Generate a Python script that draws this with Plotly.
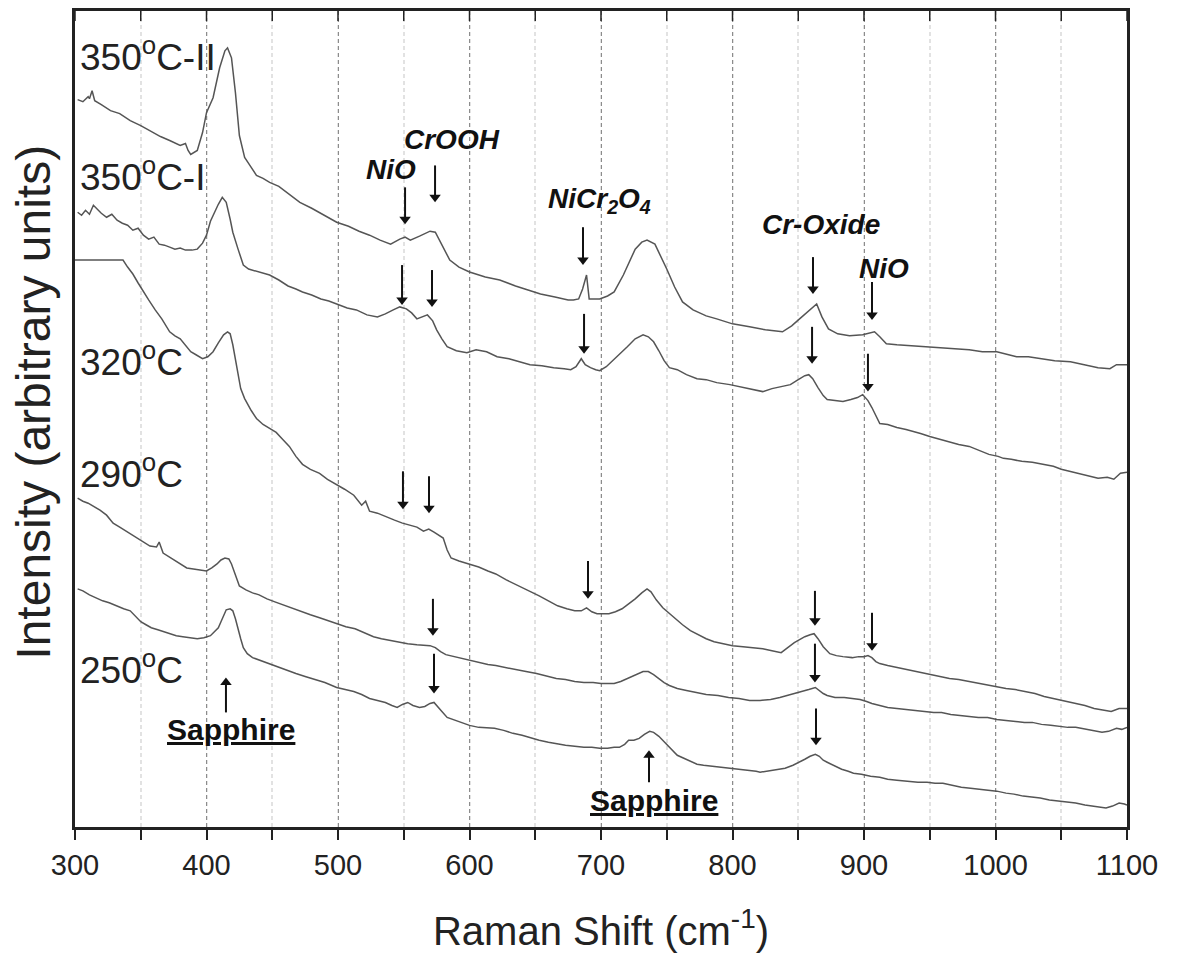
import plotly.graph_objects as go

# ---------------- data (Raman shift in cm^-1, intensity in arbitrary units) -------------
shift_350_II = [302, 306, 310, 311, 313, 315, 320, 327, 334, 342, 350, 357, 365, 372, 380, 384, 386, 388,
                393, 397, 400, 405, 410, 414, 416, 419, 422, 425, 429, 433, 438, 443, 448, 455, 463, 471,
                480, 490, 499, 508, 516, 524, 532, 540, 547, 551, 555, 562, 570, 574, 578, 585, 592, 600,
                612, 623, 635, 645, 654, 665, 675, 679, 683, 686, 689, 691, 695, 699, 705, 710, 717, 722,
                726, 731, 735, 741, 746, 750, 756, 762, 770, 780, 788, 800, 813, 825, 838, 845, 851, 856,
                861, 864, 868, 873, 880, 889, 899, 904, 908, 912, 917, 925, 935, 945, 952, 965, 980, 990,
                1001, 1010, 1016, 1025, 1035, 1045, 1057, 1068, 1078, 1087, 1092, 1097, 1100]
int_350_II = [730, 728, 733, 731, 739, 729, 725, 719, 716, 709, 704, 699, 693, 689, 684, 686, 679, 675,
              679, 697, 717, 732, 762, 779, 782, 772, 737, 694, 672, 664, 654, 651, 647, 643, 635, 627,
              621, 614, 607, 603, 598, 594, 589, 585, 590, 592, 589, 593, 598, 597, 587, 569, 562, 557,
              552, 549, 543, 539, 535, 532, 529, 529, 530, 540, 554, 530, 530, 530, 533, 537, 554, 568,
              580, 587, 589, 585, 572, 560, 542, 527, 519, 513, 510, 505, 502, 499, 497, 503, 510, 516,
              522, 525, 512, 500, 495, 493, 494, 496, 497, 492, 485, 484, 483, 482, 482, 480, 479, 477,
              477, 474, 472, 472, 470, 468, 467, 464, 461, 460, 464, 464, 464]

shift_350_I = [302, 305, 308, 311, 314, 317, 320, 324, 328, 332, 336, 340, 344, 348, 352, 356, 360, 364,
               368, 372, 376, 380, 384, 389, 393, 397, 400, 403, 406, 409, 412, 415, 418, 420, 424, 428,
               432, 438, 443, 448, 455, 462, 468, 473, 480, 487, 493, 499, 507, 514, 522, 530, 536, 542,
               547, 552, 556, 560, 564, 568, 572, 575, 579, 583, 590, 598, 605, 613, 621, 630, 638, 646,
               655, 664, 672, 677, 681, 685, 688, 692, 696, 699, 704, 709, 714, 720, 726, 732, 736, 740,
               744, 748, 752, 758, 765, 773, 780, 788, 798, 805, 812, 818, 823, 830, 837, 844, 850, 855,
               858, 861, 865, 869, 872, 878, 884, 890, 895, 899, 903, 906, 909, 912, 918, 925, 932, 938,
               943, 950, 958, 965, 972, 980, 988, 995, 1002, 1006, 1012, 1020, 1028, 1036, 1044, 1050,
               1056, 1063, 1070, 1078, 1085, 1090, 1095, 1100]
int_350_I = [617, 614, 619, 615, 624, 620, 616, 612, 615, 609, 606, 604, 599, 601, 594, 590, 592, 585,
             584, 582, 580, 581, 579, 579, 580, 586, 594, 608, 617, 625, 632, 627, 610, 597, 580, 564,
             560, 558, 556, 554, 549, 543, 540, 537, 534, 530, 528, 525, 521, 519, 514, 512, 515, 519,
             522, 520, 516, 510, 512, 514, 508, 499, 490, 482, 478, 476, 479, 477, 472, 470, 467, 464,
             463, 461, 460, 459, 462, 470, 464, 461, 459, 458, 462, 468, 475, 482, 490, 494, 492, 487,
             478, 468, 461, 459, 454, 450, 449, 446, 444, 442, 440, 438, 437, 440, 442, 444, 449, 453,
             454, 450, 441, 433, 429, 428, 427, 429, 431, 434, 428, 421, 413, 405, 404, 401, 399, 397,
             395, 392, 389, 387, 384, 382, 378, 374, 372, 370, 369, 367, 366, 364, 362, 359,
             357, 355, 352, 350, 351, 349, 355, 356]

shift_320 = [300, 336.5, 340, 344, 348, 352, 356, 361, 366, 372, 376, 380, 384, 388, 392, 397, 401, 405,
             409, 413, 416, 418, 420, 423, 426, 429, 434, 438, 443, 448, 453, 458, 463, 468, 473, 479,
             486, 492, 499, 505, 512, 518, 521, 524, 530, 537, 543, 549, 555, 560, 565, 569, 573, 577,
             580, 583, 586, 592, 600, 607, 614, 620, 628, 636, 645, 653, 660, 667, 674, 680, 685, 689,
             693, 697, 701, 706, 711, 716, 721, 726, 731, 735, 738, 742, 747, 752, 757, 762, 768, 774,
             780, 786, 792, 800, 808, 816, 823, 830, 837, 842, 847, 851, 855, 859, 862, 865, 869, 874,
             879, 884, 891, 896, 900, 903, 906, 909, 912, 918, 925, 932, 938, 943, 950, 958, 965, 972,
             980, 987, 994, 1001, 1008, 1015, 1022, 1030, 1037, 1044, 1052, 1060, 1068, 1075, 1082,
             1088, 1094, 1100]
int_320 = [569, 569, 562, 555, 546, 537, 529, 519, 510, 497, 493, 490, 484, 477, 474, 470, 472, 477,
           486, 494, 497, 495, 484, 462, 440, 430, 418, 410, 404, 400, 396, 389, 382, 372, 364, 359,
           355, 349, 344, 339, 333, 323, 327, 317, 315, 311, 308, 305, 303, 301, 297, 299, 296, 293,
           290, 278, 270, 267, 264, 261, 257, 254, 248, 243, 237, 232, 227, 222, 219, 217, 217, 220,
           216, 214, 214, 214, 216, 219, 224, 229, 235, 239, 236, 228, 220, 214, 208, 203, 197, 193,
           189, 186, 184, 182, 181, 180, 179, 177, 175, 180, 185, 188, 191, 193, 194, 189, 181, 174,
           172, 171, 170, 171, 171, 172, 170, 166, 164, 162, 160, 158, 157, 155, 153, 151, 149, 148,
           146, 144, 142, 141, 139, 138, 136, 134, 131, 129, 127, 125, 122, 119, 117,
           116, 119, 119]

shift_290 = [302, 306, 310, 315, 319, 324, 329, 334, 340, 347, 352, 357, 362, 364, 367, 372, 377, 381,
             385, 390, 395, 400, 404, 408, 411, 414, 417, 419, 422, 425, 430, 435, 440, 446, 452, 458,
             465, 472, 479, 486, 493, 499, 506, 513, 520, 527, 533, 540, 547, 553, 560, 566, 570, 574,
             578, 582, 588, 594, 600, 607, 614, 620, 627, 635, 643, 651, 659, 666, 673, 680, 687, 694,
             700, 705, 710, 715, 720, 724, 728, 732, 736, 740, 744, 748, 752, 758, 765, 772, 780, 789,
             797, 805, 813, 821, 829, 836, 842, 848, 853, 858, 863, 866, 869, 872, 878, 885, 891, 897,
             902, 906, 912, 918, 925, 932, 940, 947, 953, 959, 966, 973, 980, 987, 994, 1001, 1008,
             1015, 1022, 1028, 1035, 1042, 1049, 1055, 1061, 1068, 1075, 1081, 1086, 1092, 1096, 1100]
int_290 = [330, 327, 325, 321, 318, 313, 305, 301, 296, 290, 286, 282, 281, 286, 275, 271, 267, 263,
           260, 259, 258, 257, 260, 264, 268, 270, 269, 264, 253, 242, 238, 235, 233, 229, 226, 223,
           220, 216, 213, 210, 207, 204, 201, 199, 195, 191, 189, 187, 185, 184, 183, 182, 182, 180,
           176, 173, 171, 169, 167, 165, 163, 162, 160, 158, 156, 154, 151, 149, 148, 146, 145, 145,
           144, 144, 144, 146, 149, 152, 154, 156, 156, 153, 149, 145, 142, 139, 137, 135, 133, 132,
           130, 129, 127, 127, 128, 130, 132, 134, 136, 138, 140, 137, 134, 132, 130, 130, 129, 128,
           126, 124, 122, 120, 119, 118, 117, 116, 115, 115, 113, 112, 111, 110, 110, 108, 107,
           106, 105, 105, 103, 102, 101, 100, 100, 98, 96, 95, 96, 99, 98, 100]

shift_250 = [302, 306, 311, 316, 321, 326, 331, 337, 342, 346, 350, 354, 358, 363, 368, 372, 377, 382,
             387, 393, 398, 403, 406, 409, 411, 413, 415, 418, 420, 422, 424, 426, 428, 431, 435, 441,
             447, 454, 461, 468, 475, 482, 490, 499, 506, 512, 518, 524, 530, 536, 541, 545, 549, 553,
             557, 562, 566, 570, 573, 576, 579, 583, 589, 595, 600, 607, 614, 619, 626, 633, 640, 647,
             653, 660, 664, 669, 673, 680, 687, 693, 699, 705, 710, 714, 718, 721, 725, 729, 733, 737,
             740, 744, 747, 751, 754, 758, 763, 768, 773, 778, 785, 792, 800, 806, 812, 818, 821, 826,
             833, 840, 846, 851, 855, 859, 863, 866, 869, 872, 877, 883, 888, 892, 898, 905, 912, 918,
             925, 933, 941, 948, 954, 960, 967, 974, 981, 988, 994, 1001, 1008, 1014, 1021, 1027, 1034,
             1041, 1048, 1055, 1061, 1068, 1075, 1080, 1084, 1089, 1094, 1098, 1100]
int_250 = [239, 237, 233, 230, 227, 225, 222, 219, 217, 212, 206, 203, 200, 198, 196, 194, 192, 191,
           190, 189, 190, 192, 196, 200, 206, 213, 218, 219, 217, 209, 198, 189, 180, 174, 170, 167,
           164, 161, 157, 154, 151, 148, 145, 140, 138, 136, 133, 129, 127, 125, 122, 120, 123, 125,
           122, 120, 121, 124, 125, 120, 116, 110, 107, 104, 102, 100, 99, 99, 97, 94, 92, 89,
           87, 85, 84, 83, 82, 81, 80, 80, 79, 79, 80, 80, 83, 87, 87, 89, 93, 96,
           95, 91, 87, 82, 77, 72, 69, 66, 63, 62, 61, 60, 59, 58, 57, 56, 55, 56,
           57, 59, 62, 65, 68, 71, 73, 71, 67, 65, 62, 58, 56, 54, 53, 51, 50, 48,
           47, 46, 45, 45, 44, 44, 42, 40, 39, 38, 37, 36, 34, 33, 31, 30, 29,
           27, 26, 25, 24, 22, 21, 20, 19, 21, 24, 23, 22]

series_names = ["350<sup>o</sup>C-II", "350<sup>o</sup>C-I", "320<sup>o</sup>C", "290<sup>o</sup>C", "250<sup>o</sup>C"]
series_shift = [shift_350_II, shift_350_I, shift_320, shift_290, shift_250]
series_int = [int_350_II, int_350_I, int_320, int_290, int_250]
label_y = [775, 655, 469, 357, 160]          # intensity level of each temperature label
label_x = 302.5

# peak annotations: text, Raman shift, intensity
peak_text = ["<b><i>NiO</i></b>", "<b><i>CrOOH</i></b>", "<b><i>NiCr<sub>2</sub>O<sub>4</sub></i></b>",
             "<b><i>Cr-Oxide</i></b>", "<b><i>NiO</i></b>"]
peak_x = [540.3, 586.7, 699.2, 867.3, 915.2]
peak_y = [660, 690, 629, 605, 561]

# downward marker arrows: Raman shift, tail intensity, head intensity
arrow_x = [551.0, 573.8, 686.3, 861.2, 906.1,
           548.7, 571.5, 687.1, 860.5, 903.0,
           549.4, 569.2, 690.1, 862.7, 906.1,
           572.2, 862.7,
           573.0, 863.5]
arrow_tail = [642, 664, 602, 572, 547,
              564, 559, 515, 502, 475,
              357, 352, 267, 237, 215,
              229, 184,
              174, 119]
arrow_head = [605, 627, 564, 535, 509,
              524, 522, 475, 465, 437,
              319, 315, 229, 202, 177,
              192, 145,
              134, 82]

# upward arrows above the "Sapphire" labels
up_arrow_x = [414.8, 736.5]
up_arrow_tail = [115, 45]
up_arrow_head = [150, 77]

sapphire_x = [418.3, 740.3]
sapphire_y = [98, 27]

x_ticks = [300, 400, 500, 600, 700, 800, 900, 1000, 1100]
top_ticks = [300, 350, 400, 450, 500, 550, 600, 650, 700, 750, 800, 850, 900, 950, 1000, 1050, 1100]
Y_TOP = 819

FONT = "Liberation Sans, Arial, Helvetica, sans-serif"
LINE = "#555555"
HEAD = 6   # arrow-head length in intensity units (1 unit ~ 1 px)

fig = go.Figure()
for s, i in zip(series_shift, series_int):
    fig.add_trace(go.Scatter(x=s, y=i, mode="lines", line=dict(color=LINE, width=1.5),
                             showlegend=False, hoverinfo="skip"))

# arrow shafts
shaft_x, shaft_y = [], []
for ax_, t_, h_ in zip(arrow_x, arrow_tail, arrow_head):
    shaft_x += [ax_, ax_, None]
    shaft_y += [t_, h_ + HEAD, None]
for ax_, t_, h_ in zip(up_arrow_x, up_arrow_tail, up_arrow_head):
    shaft_x += [ax_, ax_, None]
    shaft_y += [t_, h_ - HEAD, None]
fig.add_trace(go.Scatter(x=shaft_x, y=shaft_y, mode="lines", line=dict(color="#111", width=2),
                         showlegend=False, hoverinfo="skip"))
# arrow heads
fig.add_trace(go.Scatter(x=arrow_x, y=[h + HEAD - 1 for h in arrow_head], mode="markers",
                         marker=dict(symbol="triangle-down", size=10, color="#111",
                                     line=dict(width=0)),
                         showlegend=False, hoverinfo="skip"))
fig.add_trace(go.Scatter(x=up_arrow_x, y=[h - HEAD + 1 for h in up_arrow_head], mode="markers",
                         marker=dict(symbol="triangle-up", size=10, color="#111",
                                     line=dict(width=0)),
                         showlegend=False, hoverinfo="skip"))

# inward ticks along the top frame
top_x, top_y = [], []
for t in top_ticks:
    top_x += [t, t, None]
    top_y += [Y_TOP, Y_TOP - 10, None]
fig.add_trace(go.Scatter(x=top_x, y=top_y, mode="lines", line=dict(color="#222", width=1.5),
                         showlegend=False, hoverinfo="skip", cliponaxis=False))

ann = []
for name, ly in zip(series_names, label_y):
    ann.append(dict(x=label_x, y=ly, text=name, showarrow=False, xanchor="left", yanchor="middle",
                    font=dict(family=FONT, size=37, color="#222")))
for t, px, py in zip(peak_text, peak_x, peak_y):
    ann.append(dict(x=px, y=py, text=t, showarrow=False, xanchor="center", yanchor="middle",
                    font=dict(family=FONT, size=28, color="#111")))
for sx, sy in zip(sapphire_x, sapphire_y):
    ann.append(dict(x=sx, y=sy, text="<b><u>Sapphire</u></b>", showarrow=False, xanchor="center",
                    yanchor="middle", font=dict(family=FONT, size=30, color="#111")))
ann.append(dict(xref="paper", yref="paper", x=0, y=0.52, xshift=-41, text="Intensity (arbitrary units)",
                textangle=-90, showarrow=False, xanchor="center", yanchor="middle",
                font=dict(family=FONT, size=48, color="#222")))

# page body has an 8 px margin, so the plot area is shifted by 8 px; margins compensate
fig.update_layout(
    width=1177, height=961,
    margin=dict(l=67, r=58, t=0, b=142),
    paper_bgcolor="white", plot_bgcolor="white",
    annotations=ann,
    xaxis=dict(range=[300, 1100], tickvals=x_ticks, ticktext=[str(v) for v in x_ticks],
               ticks="outside", ticklen=10, tickwidth=1.5, tickcolor="#222",
               showline=True, linecolor="#222", linewidth=2.5, mirror=True,
               showgrid=True, gridcolor="#8c8c8c", griddash="4px,3px", gridwidth=1,
               tickfont=dict(family=FONT, size=29, color="#222"),
               title=dict(text="Raman Shift (cm<sup>-1</sup>)", standoff=38,
                          font=dict(family=FONT, size=40, color="#222")),
               minor=dict(dtick=50, tick0=300, ticks="outside", ticklen=10, tickwidth=1.5,
                          tickcolor="#222", showgrid=True, gridcolor="#e2e2e2", gridwidth=1.5),
               zeroline=False),
    yaxis=dict(range=[0, Y_TOP], showticklabels=False, ticks="", showgrid=False, zeroline=False,
               showline=True, linecolor="#222", linewidth=2.5, mirror=True),
)

fig.write_html("out.html")
